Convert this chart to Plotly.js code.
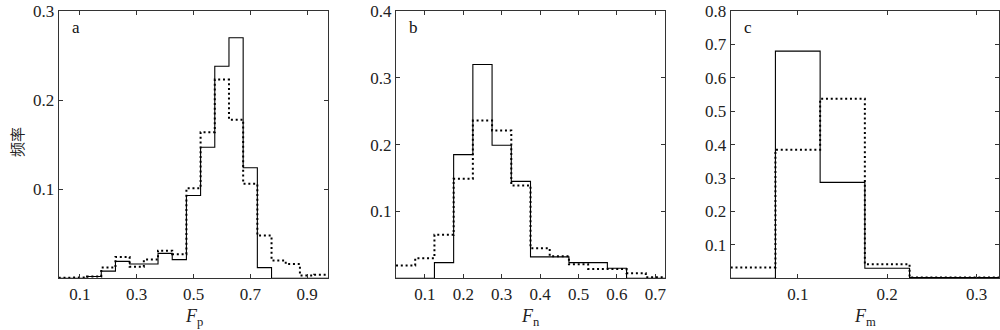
<!DOCTYPE html>
<html>
<head>
<meta charset="utf-8">
<script src="https://cdn.plot.ly/plotly-3.0.1.min.js"></script>
<style>html,body{margin:0;padding:0;background:#fff}#chart{width:1000px;height:330px}</style>
</head>
<body>
<div id="chart"></div>
<script>
// Bin centres (bin width 0.05)
var binsA = [0.05,0.10,0.15,0.20,0.25,0.30,0.35,0.40,0.45,0.50,0.55,0.60,0.65,0.70,0.75,0.80,0.85,0.90,0.95];
var solidA = [0,0,0.002,0.008,0.019,0.016,0.016,0.028,0.021,0.093,0.147,0.238,0.270,0.124,0.012,0,0,0,0];
var dottedA = [0.0005,0.001,0.002,0.012,0.024,0.013,0.021,0.031,0.027,0.101,0.164,0.223,0.178,0.106,0.048,0.020,0.016,0.003,0.004];

var binsB = [0.05,0.10,0.15,0.20,0.25,0.30,0.35,0.40,0.45,0.50,0.55,0.60,0.65,0.70];
var solidB = [0,0,0.0235,0.185,0.320,0.199,0.145,0.032,0.032,0.0235,0.0235,0.015,0,0];
var dottedB = [0.019,0.030,0.065,0.149,0.236,0.221,0.139,0.045,0.033,0.021,0.014,0.014,0.0075,0.0015];

var binsC = [0.05,0.10,0.15,0.20,0.25,0.30];
var solidC = [0,0.680,0.287,0.030,0.002,0.002];
var dottedC = [0.032,0.385,0.537,0.042,0.002,0.002];

var ticksA = [0.1,0.3,0.5,0.7,0.9];
var ticksB = [0.1,0.2,0.3,0.4,0.5,0.6,0.7];
var ticksC = [0.1,0.2,0.3];
var yTicksA = [0.1,0.2,0.3];
var yTicksB = [0.1,0.2,0.3,0.4];
var yTicksC = [0.1,0.2,0.3,0.4,0.5,0.6,0.7,0.8];

var panelLabels = ['a','b','c'];
var xTitles = ['<i>F</i><sub>p</sub>','<i>F</i><sub>n</sub>','<i>F</i><sub>m</sub>'];
var yTitle = '频率';

var BW = 0.05;
function steps(centers, vals){
  var x=[], y=[];
  for (var i=0;i<centers.length;i++){
    x.push(centers[i]-BW/2); y.push(vals[i]);
    x.push(centers[i]+BW/2); y.push(vals[i]);
  }
  return {x:x,y:y};
}

var FONT = '"Liberation Serif", "Times New Roman", serif';
var traces = [];
var sets = [[binsA,solidA,dottedA],[binsB,solidB,dottedB],[binsC,solidC,dottedC]];
sets.forEach(function(s,i){
  var ax = i===0?'':String(i+1);
  var sd = steps(s[0],s[1]);
  var dd = steps(s[0],s[2]);
  traces.push({x:dd.x,y:dd.y,xaxis:'x'+ax,yaxis:'y'+ax,mode:'lines',
    line:{color:'#000',width:2,dash:'2px,2.8px'},hoverinfo:'skip',showlegend:false});
  traces.push({x:sd.x,y:sd.y,xaxis:'x'+ax,yaxis:'y'+ax,mode:'lines',
    line:{color:'#000',width:1.1},hoverinfo:'skip',showlegend:false});
});

function xax(dom, range, tv){
  return {domain:dom, range:range, tickvals:tv, ticktext:tv.map(function(v){return v.toFixed(1);}),
    ticks:'inside', ticklen:4, tickcolor:'#333', showline:true, linecolor:'#333', linewidth:1,
    mirror:'ticks', showgrid:false, zeroline:false, tickfont:{family:FONT,size:17,color:'#222'},
    fixedrange:true};
}
function yax(range, tv, anchor){
  return {domain:[0.1567,0.9667], range:range, tickvals:tv, ticktext:tv.map(function(v){return v.toFixed(1);}),
    ticks:'inside', ticklen:4, tickcolor:'#333', showline:true, linecolor:'#333', linewidth:1,
    mirror:'ticks', showgrid:false, zeroline:false, tickfont:{family:FONT,size:17,color:'#222'},
    anchor:anchor, fixedrange:true};
}

var xa = xax([0.0587,0.3283],[0.025,0.975],ticksA);
var xb = xax([0.396,0.665],[0.025,0.725],ticksB);
var xc = xax([0.7307,0.999],[0.025,0.325],ticksC);
xa.anchor='y'; xb.anchor='y2'; xc.anchor='y3';
var ya = yax([0,0.3],yTicksA,'x');
var yb = yax([0,0.4],yTicksB,'x2');
var yc = yax([0,0.8],yTicksC,'x3');

var annotations = [];
var xDoms = [[0.0587,0.3283],[0.396,0.665],[0.7307,0.999]];
panelLabels.forEach(function(t,i){
  var ax = i===0?'':String(i+1);
  annotations.push({text:t, xref:'x'+ax+' domain', yref:'y'+ax+' domain', x:0.042, y:0.94,
    xanchor:'left', yanchor:'middle', showarrow:false, font:{family:FONT,size:17,color:'#111'}});
  annotations.push({text:xTitles[i], xref:'paper', yref:'paper', x:(xDoms[i][0]+xDoms[i][1])/2, y:(330-317)/330,
    xanchor:'center', yanchor:'middle', showarrow:false, font:{family:FONT,size:18,color:'#222'}});
});
annotations.push({text:yTitle, xref:'paper', yref:'paper', x:16/1000, y:(330-142)/330, textangle:-90,
  xanchor:'center', yanchor:'middle', showarrow:false, font:{family:'"Noto Sans CJK SC"',size:15,color:'#222'}});

var layout = {
  width:1000, height:330, margin:{l:0,r:0,t:0,b:0},
  paper_bgcolor:'#fff', plot_bgcolor:'#fff', showlegend:false,
  xaxis:xa, xaxis2:xb, xaxis3:xc, yaxis:ya, yaxis2:yb, yaxis3:yc,
  annotations:annotations
};
Plotly.newPlot('chart', traces, layout, {staticPlot:true, displayModeBar:false});
</script>
</body>
</html>
